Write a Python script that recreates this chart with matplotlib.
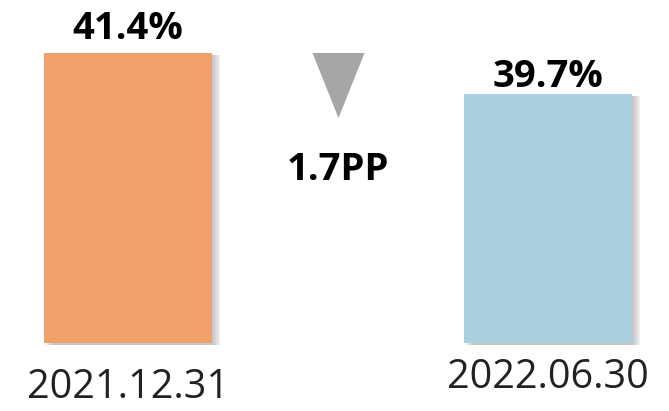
import matplotlib

matplotlib.use("Agg")
import matplotlib.pyplot as plt
import matplotlib.patheffects as pe

# data
dates = ["2021.12.31", "2022.06.30"]
ratios = [41.4, 39.7]
value_labels = ["41.4%", "39.7%"]
change_label = "1.7PP"

BAR_COLORS = ["#F0A06A", "#AACFDF"]
BASE = 29.37          # axis does not start at zero in the original

plt.rcParams["font.family"] = ["Open Sans", "DejaVu Sans"]

fig = plt.figure(figsize=(6.69, 4.11), dpi=100)
ax = fig.add_axes([0, 0, 1, 1])
ax.set_xlim(-0.3048, 1.2881)
ax.set_ylim(26.55, 43.6)
ax.axis("off")

# soft shadow, right and bottom
shadow = [pe.SimplePatchShadow(offset=(k, -1.2), shadow_rgbFace="#808080", alpha=0.09)
          for k in (6, 5, 4, 3, 2, 1)]
xs = range(len(dates))
heights = [v - BASE for v in ratios]
ax.bar(xs, heights, bottom=BASE, width=0.4, color=BAR_COLORS,
       path_effects=shadow + [pe.Normal()])

# value labels on top of bars
ax.text(0, ratios[0] + 0.98, value_labels[0], ha="center", va="center",
        fontsize=27.5, fontweight="bold", color="black")
ax.text(1, ratios[1] + 0.71, value_labels[1], ha="center", va="center",
        fontsize=27.5, fontweight="bold", color="black")

# date labels under bars
ax.text(0, 27.5, dates[0], ha="center", va="center", fontsize=28.5, color="#222222")
ax.text(1, 27.91, dates[1], ha="center", va="center", fontsize=28.5, color="#222222")

# change marker in the middle (tall downward triangle)
tri = [(-0.8, 1.0), (0.8, 1.0), (0.0, -1.0), (-0.8, 1.0)]
ax.scatter([0.5], [40.06], marker=tri, s=2190, color="#A6A6A6", linewidths=0)
ax.text(0.5, 36.56, change_label, ha="center", va="center", fontsize=27.5,
        fontweight="bold", color="black")

fig.savefig("out.png", dpi=100)
